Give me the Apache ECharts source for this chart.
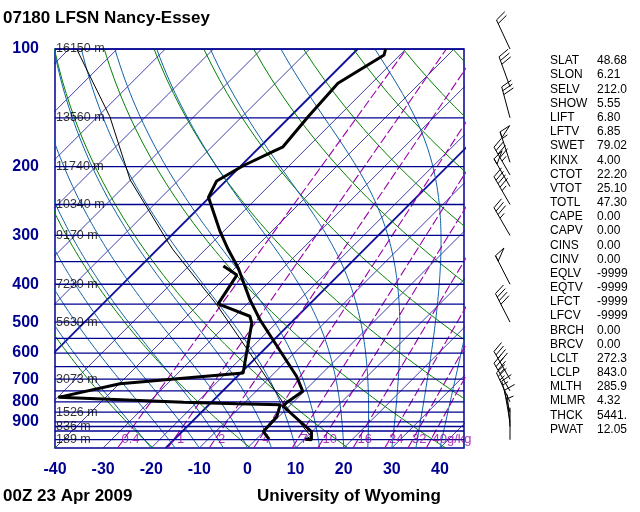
<!DOCTYPE html>
<html><head><meta charset="utf-8">
<script src="https://cdn.jsdelivr.net/npm/echarts@6/dist/echarts.min.js"></script>
<style>html,body{margin:0;padding:0;background:#fff}#c{width:640px;height:512px}</style>
</head><body><div id="c"></div>
<script>
// ---- data: points [axisValue, pressure hPa]
const tempTrace = [[28.7,100],[28.4,103.6],[18.8,122.4],[12.6,149],[7.3,178.4],[5.7,182],[-0.9,199],[-6.4,217.6],[-8.1,239.5],[-5.7,293],[-4.0,326],[-1.9,364],[0.5,438],[2.6,493],[10.2,688],[11.5,752],[8.1,804],[7.4,821],[13.3,953],[13.3,1000],[12.0,997]];
const dewTrace = [[4.5,997],[3.3,953],[6.1,873],[6.8,814],[-2.2,809],[-13.3,802],[-39.3,779],[-26.5,719],[-0.9,675],[-0.2,601],[0.9,503],[0.5,483],[-6.1,449],[-2.2,379],[-5.0,359]];
const parcelTrace = [[-35.5,100],[-28.6,149],[-24.4,216],[-16.8,308],[-15.5,326],[-6.4,451],[2.6,655],[7.4,804],[13.2,980],[12.0,997]];
const isobars = [100,150,200,250,300,350,400,450,500,550,600,650,700,750,800,850,900,925,950,1000];
const pLabels = [100,200,300,400,500,600,700,800,900];
const heightLevels = [100,150,200,250,300,400,500,700,850,925,1000];
const heightTexts = ['16150 m','13560 m','11740 m','10340 m','9170 m','7230 m','5630 m','3073 m','1526 m','836 m','189 m'];
const mixRatios = [0.4,1,2,4,7,10,16,24,32,40];
const thickIsotherms = [-60,-17];
// wind barbs: [pressure, direction deg, speed kt]
const winds = [[100,335,20],[125,340,30],[150,345,30],[195,342,55],[210,330,45],[225,330,50],[250,330,45],[300,330,35],[400,333,50],[500,333,40],[700,330,40],[750,330,35],[800,335,25],[850,345,15],[900,350,10],[925,355,5],[1000,0,0]];
const statNames = ['SLAT','SLON','SELV','SHOW','LIFT','LFTV','SWET','KINX','CTOT','VTOT','TOTL','CAPE','CAPV','CINS','CINV','EQLV','EQTV','LFCT','LFCV','BRCH','BRCV','LCLT','LCLP','MLTH','MLMR','THCK','PWAT'];
const statVals = ['48.68','6.21','212.0','5.55','6.80','6.85','79.02','4.00','22.20','25.10','47.30','0.00','0.00','0.00','0.00','-9999','-9999','-9999','-9999','0.00','0.00','272.3','843.0','285.9','4.32','5441.','12.05'];

const SKEW = 81.2, PREF = 1050;
const LP = p => Math.log10(p);
const skewX = (T,p) => T + SKEW*Math.log10(PREF/p);
const pts = arr => arr.map(d => [d[0], LP(d[1])]);
const pGrid = []; for (let p=1050; p>=100; p-=10) pGrid.push(p);

const series = [];
const bg = (data, color, width, type) => series.push({type:'line', data, symbol:'none', silent:true, clip:true, lineStyle:{color, width, type: type||'solid'}, z:1, animation:false});
for (let T=-130; T<=40; T+=10) bg([[skewX(T,1050),LP(1050)],[skewX(T,100),LP(100)]], '#10109a', 0.8);
thickIsotherms.forEach(T => bg([[skewX(T,1050),LP(1050)],[skewX(T,100),LP(100)]], '#10109a', 1.8));
for (let th=230; th<=490; th+=20) bg(pGrid.map(p => [skewX(th*Math.pow(p/1000,0.286)-273.15,p), LP(p)]), '#008000', 1);
function es(Tc){return 6.112*Math.exp(17.67*Tc/(Tc+243.5));}
for (let T0=-20; T0<=45; T0+=5) {
  let T = T0+273.15, d=[];
  for (let p=1050; p>=100; p-=5) {
    d.push([skewX(T-273.15,p), LP(p)]);
    const e=es(T-273.15), rs=0.622*e/(p-e);
    const dTdp=(287*T+2.5e6*rs)/(p*(1005+2.5e6*2.5e6*rs*0.622/(287*T*T)));
    T -= dTdp*5;
  }
  bg(d, '#1060a8', 1);
}
const mixLab = [];
mixRatios.forEach((w,i) => {
  const d = [1050,100].map(p => { const e=w*p/(622+w), l=Math.log(e/6.112); return [skewX(243.5*l/(17.67-l),p), LP(p)]; });
  bg(d, '#9a00aa', 1.1, [9,3]);
  const e=w*1000/(622+w), l=Math.log(e/6.112);
  mixLab.push({value:[skewX(243.5*l/(17.67-l),1000)+ (i===mixRatios.length-1?4.5:1.5), LP(1000)], name: i===mixRatios.length-1 ? '40g/kg' : String(w)});
});
isobars.forEach(p => bg([[-40,LP(p)],[45,LP(p)]], '#000090', 1.3));
series.push({type:'scatter', data:mixLab, symbolSize:0, silent:true, z:5, label:{show:true, formatter:q=>q.name, color:'#9a00aa', fontSize:13, fontFamily:'Liberation Sans'}});
series.push({type:'scatter', data:heightLevels.map((p,i)=>({value:[-40,LP(p)], name:heightTexts[i]})), symbolSize:0, silent:true, z:5, label:{show:true, position:'right', distance:1, formatter:q=>q.name, color:'#000', fontSize:12.5, fontFamily:'Liberation Sans'}});
series.push({type:'line', data:pts(parcelTrace), symbol:'none', lineStyle:{color:'#000', width:1}, z:6});
series.push({type:'line', data:pts(tempTrace), symbol:'none', lineStyle:{color:'#000', width:3}, z:7});
series.push({type:'line', data:pts(dewTrace), symbol:'none', lineStyle:{color:'#000', width:3}, z:7});
series.push({type:'custom', xAxisIndex:1, yAxisIndex:1, data:winds.map(w=>[40, LP(w[0]), w[1], w[2]]), clip:false, z:8,
  renderItem:(params, api) => {
    const o = api.coord([api.value(0), api.value(1)]);
    const dir = api.value(2)*Math.PI/180, spd = api.value(3);
    const L = 32, dx = Math.sin(dir), dy = -Math.cos(dir), px = -dy, py = dx;
    const ch = [];
    const tip = [o[0]+dx*L, o[1]+dy*L];
    ch.push({type:'line', shape:{x1:o[0],y1:o[1],x2:tip[0],y2:tip[1]}, style:{stroke:'#000', lineWidth:1}});
    let s = Math.round(spd/5)*5, pos = 0;
    while (s >= 50) { const b=[tip[0]-dx*pos, tip[1]-dy*pos], b2=[b[0]-dx*6, b[1]-dy*6];
      ch.push({type:'polygon', shape:{points:[b,[b[0]+px*11+dx*3,b[1]+py*11+dy*3],b2]}, style:{stroke:'#000', fill:'none', lineWidth:1}}); s-=50; pos+=7; }
    while (s >= 10) { const b=[tip[0]-dx*pos, tip[1]-dy*pos];
      ch.push({type:'line', shape:{x1:b[0],y1:b[1],x2:b[0]+px*11+dx*4,y2:b[1]+py*11+dy*4}, style:{stroke:'#000', lineWidth:1}}); s-=10; pos+=4; }
    if (s >= 5) { if (pos===0) pos=4; const b=[tip[0]-dx*pos, tip[1]-dy*pos];
      ch.push({type:'line', shape:{x1:b[0],y1:b[1],x2:b[0]+px*6+dx*2,y2:b[1]+py*6+dy*2}, style:{stroke:'#000', lineWidth:1}}); }
    return {type:'group', children:ch};
  }});

const graphics = [
  {type:'text', left:3, top:10, style:{text:'07180 LFSN Nancy-Essey', font:'bold 17px "Liberation Sans"', fill:'#000'}},
  {type:'text', left:3, top:488, style:{text:'00Z 23 Apr 2009', font:'bold 17px "Liberation Sans"', fill:'#000'}},
  {type:'text', left:257, top:488, style:{text:'University of Wyoming', font:'bold 17px "Liberation Sans"', fill:'#000'}}
];
statNames.forEach((n,i)=>{
  graphics.push({type:'text', left:550, top:55+i*14.17, style:{text:n, font:'12px "Liberation Sans"', fill:'#000'}});
  graphics.push({type:'text', left:597, top:55+i*14.17, style:{text:statVals[i], font:'12px "Liberation Sans"', fill:'#000'}});
});

const chart = echarts.init(document.getElementById('c'));
chart.setOption({
  animation:false,
  grid:[{left:55, right:176, top:49, bottom:64, show:true, borderColor:'#000090', borderWidth:1.5},
        {left:470, width:60, top:49, bottom:64, show:false}],
  xAxis:[{type:'value', min:-40, max:45, interval:10, gridIndex:0, splitLine:{show:false}, axisLine:{show:false}, axisTick:{show:false},
          axisLabel:{showMaxLabel:false, color:'#000090', fontSize:16, fontWeight:'bold', fontFamily:'Liberation Sans', margin:14}},
         {type:'value', min:0, max:60, gridIndex:1, show:false}],
  yAxis:[{type:'value', min:LP(100), max:LP(1050), inverse:true, gridIndex:0, splitLine:{show:false}, axisLine:{show:false}, axisTick:{show:false},
          axisLabel:{customValues:pLabels.map(LP), formatter:v=>String(Math.round(Math.pow(10,v))), color:'#000090', fontSize:16, fontWeight:'bold', fontFamily:'Liberation Sans', margin:16}},
         {type:'value', min:LP(100), max:LP(1050), inverse:true, gridIndex:1, show:false}],
  series, graphic:graphics
});
</script></body></html>
